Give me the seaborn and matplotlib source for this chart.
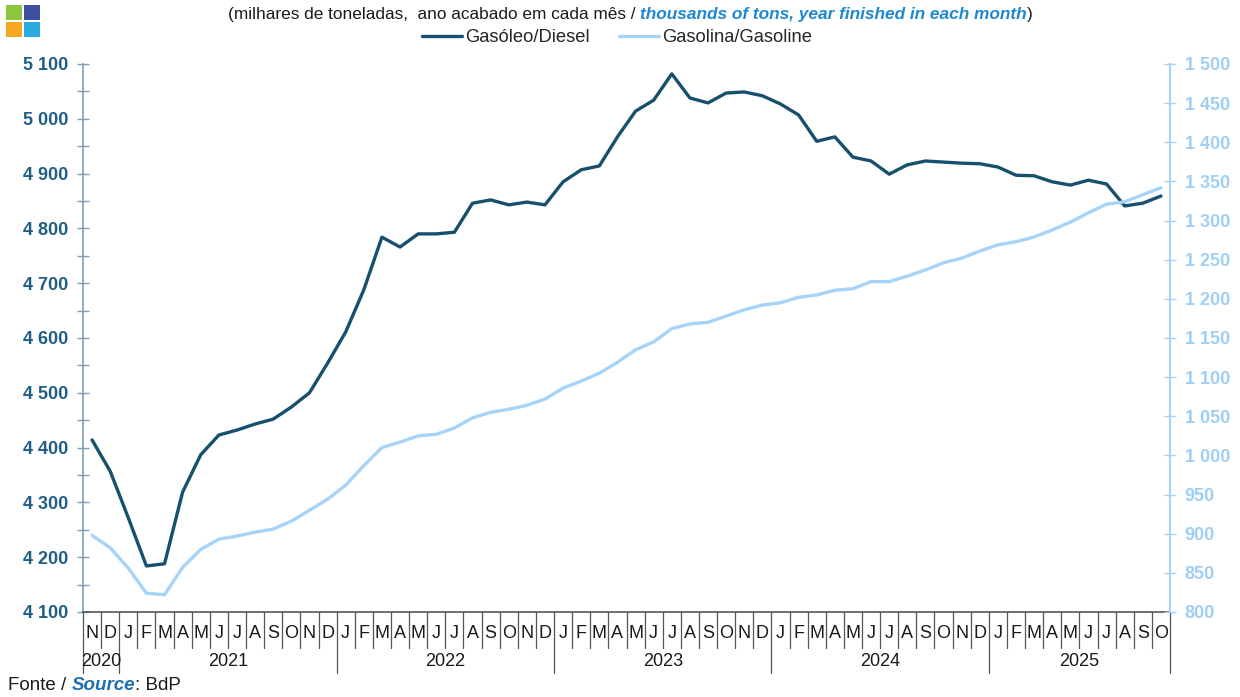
import numpy as np
import pandas as pd
import matplotlib
matplotlib.use("Agg")
import matplotlib.pyplot as plt
import matplotlib.transforms as mtransforms
from matplotlib.patches import Rectangle
from matplotlib.lines import Line2D
import seaborn as sns

# Month initials (Nov 2020 – Oct 2025)
months = ["N", "D",
          "J", "F", "M", "A", "M", "J", "J", "A", "S", "O", "N", "D",
          "J", "F", "M", "A", "M", "J", "J", "A", "S", "O", "N", "D",
          "J", "F", "M", "A", "M", "J", "J", "A", "S", "O", "N", "D",
          "J", "F", "M", "A", "M", "J", "J", "A", "S", "O", "N", "D",
          "J", "F", "M", "A", "M", "J", "J", "A", "S", "O"]
years = ["2020", "2021", "2022", "2023", "2024", "2025"]
months_per_year = [2, 12, 12, 12, 12, 10]

# Diesel, thousand tons, rolling 12-month total
diesel = [4414, 4357, 4272, 4184, 4188, 4319, 4387, 4423, 4432, 4443, 4452, 4474,
          4500, 4554, 4611, 4688, 4784, 4766, 4790, 4790, 4793, 4846, 4852, 4843,
          4848, 4843, 4885, 4907, 4914, 4967, 5014, 5034, 5082, 5038, 5029, 5047,
          5049, 5042, 5027, 5007, 4959, 4967, 4930, 4923, 4899, 4916, 4923, 4921,
          4919, 4918, 4912, 4897, 4896, 4885, 4879, 4888, 4881, 4841, 4846, 4859]

# Gasoline, thousand tons, rolling 12-month total
gasoline = [898, 882, 856, 824, 822, 857, 880, 893, 897, 902, 906, 916,
            930, 944, 962, 987, 1010, 1017, 1025, 1027, 1035, 1048, 1055, 1059,
            1064, 1072, 1086, 1095, 1105, 1119, 1135, 1145, 1162, 1168, 1170, 1178,
            1186, 1192, 1195, 1202, 1205, 1211, 1213, 1222, 1222, 1229, 1237, 1246,
            1252, 1261, 1269, 1273, 1279, 1288, 1298, 1310, 1321, 1324, 1333, 1342]

df = pd.DataFrame({"idx": np.arange(len(months)), "diesel": diesel, "gasoline": gasoline})

sns.set_theme(style="white")
plt.rcParams["font.family"] = ["Liberation Sans", "DejaVu Sans"]

c_diesel = "#17506f"
c_gas = "#a6d3f9"
c_left_lbl = "#1f5e86"
c_right_lbl = "#9fcff5"

W, H = 1240, 697
fig = plt.figure(figsize=(W / 100, H / 100), dpi=100)
ax = fig.add_axes([83 / W, 1 - 612 / H, (1170 - 83) / W, (612 - 64) / H])
ax2 = ax.twinx()

sns.lineplot(data=df, x="idx", y="diesel", ax=ax, color=c_diesel, linewidth=2.4,
             label="Gasóleo/Diesel", legend=False)
sns.lineplot(data=df, x="idx", y="gasoline", ax=ax2, color=c_gas, linewidth=2.4,
             label="Gasolina/Gasoline", legend=False)

n = len(months)
ax.set_xlim(-0.5, n - 0.5)
ax.set_ylim(4100, 5100)
ax2.set_ylim(800, 1500)

# Left axis
ax.set_yticks(np.arange(4100, 5101, 100))
ax.set_yticks(np.arange(4150, 5100, 100), minor=True)
ax.set_yticklabels([f"{v:,}".replace(",", " ") for v in range(4100, 5101, 100)])
ax.tick_params(axis="y", which="both", direction="inout", length=9, width=1,
               color="#7d9fb8", left=True, labelsize=13, labelcolor=c_left_lbl, pad=6)
for t in ax.get_yticklabels():
    t.set_fontweight("bold")

# Right axis
ax2.set_yticks(np.arange(800, 1501, 50))
ax2.set_yticklabels([f"{v:,}".replace(",", " ") for v in range(800, 1501, 50)])
ax2.tick_params(axis="y", which="both", direction="inout", length=9, width=1,
                color=c_gas, right=True, labelsize=13, labelcolor=c_right_lbl, pad=6)
for t in ax2.get_yticklabels():
    t.set_fontweight("bold")

ax.set_xlabel("")
ax.set_ylabel("")
ax2.set_ylabel("")
ax.set_xticks([])
ax2.set_xticks([])

for a in (ax, ax2):
    a.spines["top"].set_visible(False)
    a.grid(False)
ax.spines["right"].set_visible(False)
ax2.spines["left"].set_visible(False)
ax2.spines["bottom"].set_visible(False)
ax.spines["left"].set_color("#7d9fb8")
ax.spines["left"].set_linewidth(1.2)
ax2.spines["right"].set_color(c_gas)
ax2.spines["right"].set_linewidth(1.5)
ax.spines["bottom"].set_color("#555555")
ax.spines["bottom"].set_linewidth(1.2)

# Category axis: month letters, separators and year groups
trans = mtransforms.blended_transform_factory(ax.transData, ax.transAxes)
ax_h = (612 - 64)
month_sep = -(648 - 612) / ax_h
year_sep = -(673 - 612) / ax_h
month_y = -(633 - 612) / ax_h
year_y = -(662 - 612) / ax_h

year_bounds = np.cumsum([0] + months_per_year) - 0.5
for i, m in enumerate(months):
    ax.text(i, month_y, m, transform=trans, ha="center", va="center",
            fontsize=13, color="#1a1a1a")
for b in np.arange(-0.5, n, 1.0):
    is_year = np.any(np.isclose(year_bounds, b))
    ax.add_line(Line2D([b, b], [0, year_sep if is_year else month_sep], transform=trans,
                       color="#555555", linewidth=0.9, clip_on=False))
for k, y in enumerate(years):
    center = (year_bounds[k] + year_bounds[k + 1]) / 2
    ax.text(center, year_y, y, transform=trans, ha="center", va="center",
            fontsize=13, color="#1a1a1a")

# Legend
handles = [Line2D([], [], color=c_diesel, linewidth=2.4),
           Line2D([], [], color=c_gas, linewidth=2.4)]
fig.legend(handles, ["Gasóleo/Diesel", "Gasolina/Gasoline"], loc="center",
           bbox_to_anchor=(617 / W, 1 - 38 / H), ncol=2, frameon=False, fontsize=13.2,
           handlelength=2.2, handletextpad=0.15, columnspacing=1.6)

# Subtitle in two styles
sub_y = 1 - 14 / H
t1 = fig.text(228 / W, sub_y, "(milhares de toneladas,  ano acabado em cada mês / ",
              fontsize=12.4, color="#1a1a1a", ha="left", va="center")
fig.canvas.draw()
bb = t1.get_window_extent()
t2 = fig.text(bb.x1 / W, sub_y, "thousands of tons, year finished in each month",
              fontsize=12.4, color="#1e88d2", style="italic", fontweight="bold",
              ha="left", va="center")
fig.canvas.draw()
bb2 = t2.get_window_extent()
fig.text(bb2.x1 / W, sub_y, ")", fontsize=12.4, color="#1a1a1a",
         ha="left", va="center")

# Source line
src_y = 1 - 686 / H
s1 = fig.text(8 / W, src_y, "Fonte / ", fontsize=13.5, color="#1a1a1a",
              ha="left", va="center")
fig.canvas.draw()
sb = s1.get_window_extent()
s2 = fig.text(sb.x1 / W, src_y, "Source", fontsize=13.5, color="#1e6fb0",
              style="italic", fontweight="bold", ha="left", va="center")
fig.canvas.draw()
sb2 = s2.get_window_extent()
fig.text(sb2.x1 / W, src_y, ": BdP", fontsize=13.5, color="#1a1a1a",
         ha="left", va="center")

# Corner emblem
for (x0, y0, col) in [(6, 5, "#8dc63f"), (24, 5, "#3f4fa0"),
                      (6, 22, "#f7a823"), (24, 22, "#29abe2")]:
    fig.patches.append(Rectangle((x0 / W, 1 - (y0 + 15) / H), 16 / W, 15 / H,
                                 transform=fig.transFigure, color=col, linewidth=0))

fig.savefig("out.png", dpi=100)
